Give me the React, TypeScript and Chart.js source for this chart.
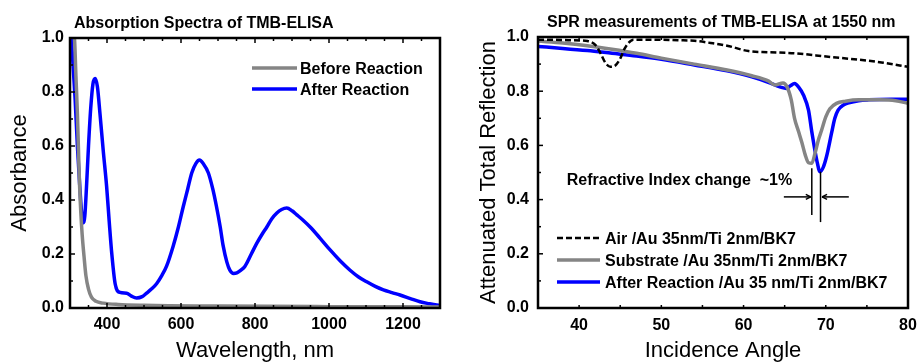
import React, { useEffect, useRef } from "react";
import { Chart, registerables } from "chart.js";

Chart.register(...registerables);

const FONT = "'Liberation Sans', Arial, Helvetica, sans-serif";
const GRAY = "#858585";
const BLUE = "#0000ff";

// ---------------- Left panel: absorption spectra ----------------
const wavelengthBefore = [300, 312, 316, 320, 323, 326, 329, 333, 338, 343, 350, 358, 370, 390, 430, 500, 700, 1000, 1300];
const absorbanceBefore = [1.05, 1.0, 0.86, 0.72, 0.58, 0.45, 0.36, 0.27, 0.19, 0.12, 0.07, 0.04, 0.025, 0.018, 0.013, 0.01, 0.007, 0.005, 0.004];

const wavelengthAfter = [300, 305, 310, 314, 320, 326, 331, 335, 340, 345, 350, 356, 362, 368, 374, 381, 390, 399, 406, 413, 422, 435, 453, 465, 480, 495, 507, 520, 534, 548, 561, 579, 593, 606, 618, 629, 640, 650, 660, 674, 686, 696, 706, 714, 724, 732, 742, 751, 762, 773, 790, 805, 820, 832, 845, 859, 872, 886, 900, 913, 930, 949, 975, 1003, 1030, 1057, 1080, 1102, 1125, 1147, 1170, 1192, 1220, 1246, 1270, 1291, 1300];
const absorbanceAfter = [1.05, 0.97, 0.86, 0.77, 0.6, 0.46, 0.36, 0.315, 0.34, 0.46, 0.6, 0.74, 0.83, 0.85, 0.82, 0.72, 0.58, 0.45, 0.32, 0.2, 0.09, 0.058, 0.055, 0.045, 0.037, 0.042, 0.055, 0.07, 0.09, 0.12, 0.155, 0.23, 0.3, 0.375, 0.44, 0.5, 0.535, 0.548, 0.535, 0.5, 0.44, 0.375, 0.3, 0.23, 0.17, 0.14, 0.128, 0.13, 0.14, 0.155, 0.2, 0.24, 0.275, 0.3, 0.33, 0.352, 0.365, 0.37, 0.36, 0.345, 0.325, 0.3, 0.26, 0.215, 0.175, 0.14, 0.115, 0.097, 0.08, 0.067, 0.057, 0.048, 0.035, 0.023, 0.016, 0.011, 0.01];

const wavelengthTicks = [400, 600, 800, 1000, 1200];
const absorbanceTicks = [0, 0.2, 0.4, 0.6, 0.8, 1.0];

// ---------------- Right panel: SPR curves ----------------
const angleAir = [35, 37, 39, 41, 42, 42.6, 43.2, 43.8, 44.4, 45, 45.5, 46, 46.6, 48, 50, 52, 54, 56, 58, 60.6, 63, 66.2, 70.3, 74.4, 77, 80];
const reflAir = [0.99, 0.99, 0.988, 0.985, 0.97, 0.94, 0.905, 0.89, 0.895, 0.92, 0.955, 0.978, 0.99, 0.99, 0.99, 0.988, 0.986, 0.978, 0.968, 0.948, 0.944, 0.94, 0.927, 0.915, 0.905, 0.89];

const angleSubstrate = [35, 38, 41, 44, 47, 50, 54, 58, 61, 63, 63.8, 64.8, 65.3, 65.8, 66.2, 66.7, 67.1, 67.5, 67.9, 68.3, 68.7, 69.1, 69.5, 70, 70.5, 71.3, 72.4, 74, 76.5, 78.5, 80];
const reflSubstrate = [0.985, 0.978, 0.968, 0.955, 0.94, 0.922, 0.9, 0.878, 0.857, 0.838, 0.823, 0.83, 0.815, 0.768, 0.7, 0.65, 0.61, 0.565, 0.536, 0.534, 0.572, 0.62, 0.657, 0.705, 0.735, 0.755, 0.763, 0.768, 0.768, 0.765, 0.755];

const angleAfter = [35, 38, 41, 44, 47, 50, 54, 58, 61, 63, 64.5, 65.2, 65.7, 66.2, 66.7, 67.3, 67.9, 68.3, 68.9, 69.3, 69.7, 70.1, 70.7, 71.1, 71.5, 72.2, 72.8, 74, 75.2, 78, 80];
const reflAfter = [0.965, 0.958, 0.95, 0.94, 0.93, 0.918, 0.897, 0.875, 0.853, 0.833, 0.815, 0.81, 0.82, 0.828, 0.815, 0.785, 0.73, 0.65, 0.546, 0.503, 0.52, 0.56, 0.645, 0.7, 0.73, 0.75, 0.757, 0.765, 0.768, 0.77, 0.77];

const angleTicks = [40, 50, 60, 70, 80];
const reflTicks = [0, 0.2, 0.4, 0.6, 0.8, 1.0];

// annotation values (data units)
const arrowLevel = 0.41;
const arrowFromAngles = [64.9, 72.8];
const markerBottoms = [0.343, 0.317];
const noteText = "Refractive Index change  ~1%";
const noteAngle = 38.5;
const noteLevel = 0.454;

const pts = (xs: number[], ys: number[]) => xs.map((x, i) => ({ x, y: ys[i] }));

type FrameCfg = { xStep: number; xMajor: number[]; yStep: number; yMajor: number[] };

function framePlugin(cfg: FrameCfg) {
  return {
    id: "frameTicks",
    afterDatasetsDraw(chart: any) {
      const { ctx, chartArea: a, scales } = chart;
      const xs = scales.x;
      const ys = scales.y;
      ctx.save();
      ctx.strokeStyle = "#000";
      ctx.lineWidth = 1.5;
      const seg = (x1: number, y1: number, x2: number, y2: number) => {
        ctx.beginPath();
        ctx.moveTo(x1, y1);
        ctx.lineTo(x2, y2);
        ctx.stroke();
      };
      const nx = Math.round((xs.max - xs.min) / cfg.xStep);
      for (let i = 0; i <= nx; i++) {
        const v = xs.min + i * cfg.xStep;
        const px = xs.getPixelForValue(v);
        const major = cfg.xMajor.some((m) => Math.abs(m - v) < 1e-6);
        const len = major ? 5 : 3;
        seg(px, a.bottom, px, a.bottom - len);
        seg(px, a.top, px, a.top + len);
      }
      const ny = Math.round((ys.max - ys.min) / cfg.yStep);
      for (let i = 0; i <= ny; i++) {
        const v = ys.min + i * cfg.yStep;
        const py = ys.getPixelForValue(v);
        const major = cfg.yMajor.some((m) => Math.abs(m - v) < 1e-6);
        const len = major ? 5 : 3;
        seg(a.left, py, a.left + len, py);
      }
      ctx.lineWidth = 2.5;
      ctx.strokeRect(a.left, a.top, a.right - a.left, a.bottom - a.top);
      ctx.restore();
    },
  };
}

type DecoCfg = {
  title: string;
  titleDx: number;
  titleY: number;
  legendLineX: [number, number];
  legendTextDx: number;
  legendTopDy: number;
  legendGap: number;
};

function decoPlugin(cfg: DecoCfg) {
  return {
    id: "deco",
    afterDraw(chart: any) {
      const { ctx, chartArea: a } = chart;
      ctx.save();
      ctx.fillStyle = "#000";
      ctx.font = `bold 16px ${FONT}`;
      ctx.textBaseline = "alphabetic";
      ctx.textAlign = "left";
      ctx.fillText(cfg.title, a.left + cfg.titleDx, cfg.titleY);
      chart.data.datasets.forEach((ds: any, i: number) => {
        const y = a.top + cfg.legendTopDy + i * cfg.legendGap;
        ctx.save();
        ctx.strokeStyle = ds.borderColor;
        ctx.lineWidth = ds.borderWidth;
        ctx.setLineDash(ds.borderDash || []);
        ctx.beginPath();
        ctx.moveTo(a.left + cfg.legendLineX[0], y);
        ctx.lineTo(a.left + cfg.legendLineX[1], y);
        ctx.stroke();
        ctx.restore();
        ctx.fillText(ds.label, a.left + cfg.legendTextDx, y + 6);
      });
      ctx.restore();
    },
  };
}

const shiftPlugin = {
  id: "shift",
  afterDraw(chart: any) {
    const { ctx, scales } = chart;
    const xs = scales.x;
    const ys = scales.y;
    const argmin = (xsArr: number[], ysArr: number[]) => {
      let k = 0;
      ysArr.forEach((v, i) => {
        if (v < ysArr[k]) k = i;
      });
      return { x: xsArr[k], y: ysArr[k] };
    };
    const mins = [argmin(angleSubstrate, reflSubstrate), argmin(angleAfter, reflAfter)];
    ctx.save();
    ctx.strokeStyle = "#000";
    ctx.fillStyle = "#000";
    ctx.lineWidth = 1.5;
    const seg = (x1: number, y1: number, x2: number, y2: number) => {
      ctx.beginPath();
      ctx.moveTo(x1, y1);
      ctx.lineTo(x2, y2);
      ctx.stroke();
    };
    mins.forEach((m, i) => {
      const px = xs.getPixelForValue(m.x) + (i === 0 ? 0 : 0.5);
      const top = ys.getPixelForValue(m.y) + (i === 0 ? 5 : 0);
      seg(px, top, px, ys.getPixelForValue(markerBottoms[i]));
    });
    const ay = ys.getPixelForValue(arrowLevel);
    const p0 = xs.getPixelForValue(mins[0].x);
    const p1 = xs.getPixelForValue(mins[1].x);
    const l0 = xs.getPixelForValue(arrowFromAngles[0]);
    const l1 = xs.getPixelForValue(arrowFromAngles[1]);
    seg(l0, ay, p0 - 1, ay);
    seg(p0 - 1, ay, p0 - 6, ay - 2.5);
    seg(p0 - 1, ay, p0 - 6, ay + 2.5);
    seg(l1, ay, p1 + 2, ay);
    seg(p1 + 2, ay, p1 + 7, ay - 2.5);
    seg(p1 + 2, ay, p1 + 7, ay + 2.5);
    ctx.font = `bold 16px ${FONT}`;
    ctx.textAlign = "left";
    ctx.textBaseline = "alphabetic";
    ctx.fillText(noteText, xs.getPixelForValue(noteAngle), ys.getPixelForValue(noteLevel));
    ctx.restore();
  },
};

function axisOptions(opts: {
  min: number;
  max: number;
  ticks: number[];
  digits: number;
  title: string;
  size: number;
  tickPad: number;
  titlePad: { top: number; bottom: number };
}) {
  return {
    type: "linear",
    min: opts.min,
    max: opts.max,
    afterBuildTicks: (axis: any) => {
      axis.ticks = opts.ticks.map((value) => ({ value }));
    },
    afterFit: (scale: any) => {
      if (scale.isHorizontal()) {
        scale.height = opts.size;
        scale.paddingLeft = 0;
        scale.paddingRight = 0;
      } else {
        scale.width = opts.size;
        scale.paddingTop = 0;
        scale.paddingBottom = 0;
      }
    },
    grid: { display: false, drawTicks: false },
    border: { display: false },
    ticks: {
      autoSkip: false,
      maxRotation: 0,
      padding: opts.tickPad,
      color: "#000",
      font: { family: FONT, size: 16, weight: "bold" },
      callback: (v: any) => Number(v).toFixed(opts.digits),
    },
    title: {
      display: true,
      text: opts.title,
      color: "#000",
      font: { family: FONT, size: 22 },
      padding: opts.titlePad,
    },
  };
}

function LeftChart() {
  const ref = useRef<HTMLCanvasElement>(null);
  useEffect(() => {
    const chart = new Chart(ref.current as HTMLCanvasElement, {
      type: "line",
      data: {
        datasets: [
          {
            label: "Before Reaction",
            data: pts(wavelengthBefore, absorbanceBefore),
            borderColor: GRAY,
            borderWidth: 3.5,
            pointRadius: 0,
            cubicInterpolationMode: "monotone",
          },
          {
            label: "After Reaction",
            data: pts(wavelengthAfter, absorbanceAfter),
            borderColor: BLUE,
            borderWidth: 3.5,
            pointRadius: 0,
            cubicInterpolationMode: "monotone",
          },
        ],
      },
      options: {
        responsive: false,
        animation: false,
        devicePixelRatio: 1,
        layout: { padding: { top: 38, right: 15, left: 0, bottom: 0 } },
        plugins: { legend: { display: false }, tooltip: { enabled: false }, title: { display: false } },
        scales: {
          x: axisOptions({ min: 300, max: 1300, ticks: wavelengthTicks, digits: 0, title: "Wavelength, nm", size: 56, tickPad: 7, titlePad: { top: 0, bottom: 0 } }),
          y: axisOptions({ min: 0, max: 1, ticks: absorbanceTicks, digits: 1, title: "Absorbance", size: 70, tickPad: 6, titlePad: { top: 7, bottom: 0 } }),
        },
      } as any,
      plugins: [
        framePlugin({ xStep: 50, xMajor: [400, 600, 800, 1000, 1200], yStep: 0.1, yMajor: absorbanceTicks }),
        decoPlugin({ title: "Absorption Spectra of TMB-ELISA", titleDx: 4, titleY: 28, legendLineX: [182, 227], legendTextDx: 230, legendTopDy: 30, legendGap: 21 }),
      ],
    });
    return () => chart.destroy();
  }, []);
  return <canvas ref={ref} width={455} height={364} style={{ position: "absolute", left: 0, top: 0, display: "block" }} />;
}

function RightChart() {
  const ref = useRef<HTMLCanvasElement>(null);
  useEffect(() => {
    const chart = new Chart(ref.current as HTMLCanvasElement, {
      type: "line",
      data: {
        datasets: [
          {
            label: "Air /Au 35nm/Ti 2nm/BK7",
            data: pts(angleAir, reflAir),
            borderColor: "#000",
            borderWidth: 2.5,
            borderDash: [6, 3],
            pointRadius: 0,
            cubicInterpolationMode: "monotone",
          },
          {
            label: "Substrate /Au 35nm/Ti 2nm/BK7",
            data: pts(angleSubstrate, reflSubstrate),
            borderColor: GRAY,
            borderWidth: 3.5,
            pointRadius: 0,
            cubicInterpolationMode: "monotone",
          },
          {
            label: "After Reaction /Au 35 nm/Ti 2nm/BK7",
            data: pts(angleAfter, reflAfter),
            borderColor: BLUE,
            borderWidth: 3.5,
            pointRadius: 0,
            cubicInterpolationMode: "monotone",
          },
        ],
      },
      options: {
        responsive: false,
        animation: false,
        devicePixelRatio: 1,
        layout: { padding: { top: 37, right: 9, left: 0, bottom: 0 } },
        plugins: { legend: { display: false }, tooltip: { enabled: false }, title: { display: false } },
        scales: {
          x: axisOptions({ min: 35, max: 80, ticks: angleTicks, digits: 0, title: "Incidence Angle", size: 56, tickPad: 8, titlePad: { top: 0, bottom: 0 } }),
          y: axisOptions({ min: 0, max: 1, ticks: reflTicks, digits: 1, title: "Attenuated Total Reflection", size: 83, tickPad: 9, titlePad: { top: 21, bottom: 0 } }),
        },
      } as any,
      plugins: [
        framePlugin({ xStep: 5, xMajor: [], yStep: 0.1, yMajor: reflTicks }),
        decoPlugin({ title: "SPR measurements of TMB-ELISA at 1550 nm", titleDx: 9, titleY: 27, legendLineX: [19, 62], legendTextDx: 67, legendTopDy: 201, legendGap: 22 }),
        shiftPlugin,
      ],
    });
    return () => chart.destroy();
  }, []);
  return <canvas ref={ref} width={462} height={364} style={{ position: "absolute", left: 455, top: 0, display: "block" }} />;
}

export default function App() {
  return (
    <div style={{ position: "fixed", left: 0, top: 0, width: 917, height: 362, overflow: "hidden", background: "#fff" }}>
      <LeftChart />
      <RightChart />
    </div>
  );
}
